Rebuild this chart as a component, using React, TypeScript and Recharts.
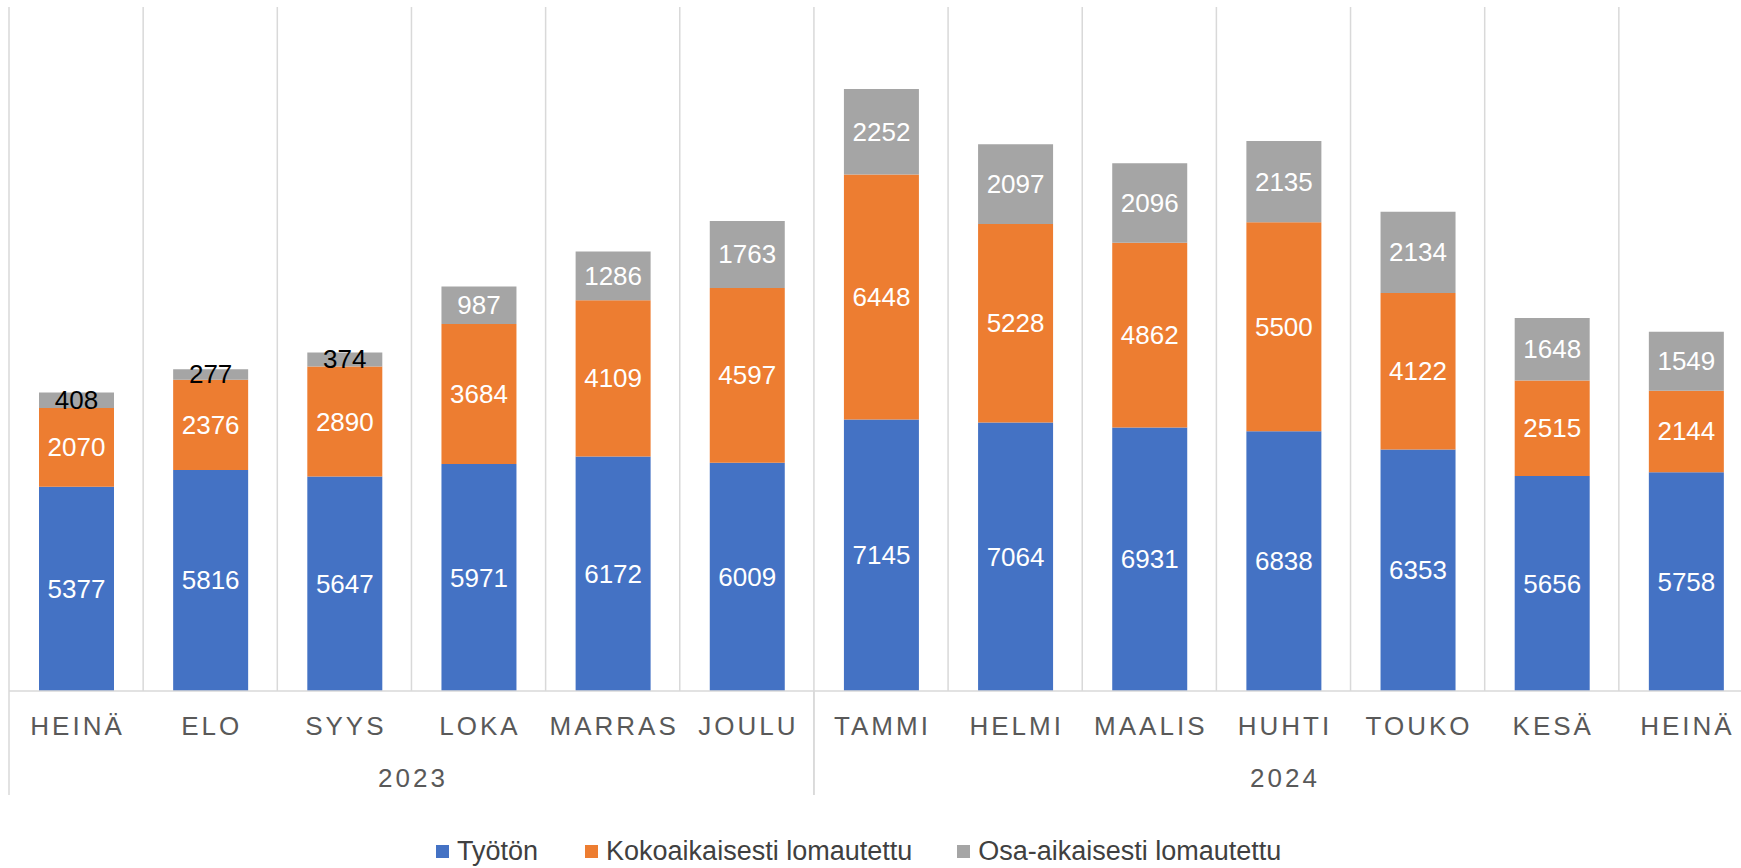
import React from 'react';
import { BarChart, Bar, XAxis, YAxis, CartesianGrid, Legend, LabelList } from 'recharts';

const months = ['HEINÄ', 'ELO', 'SYYS', 'LOKA', 'MARRAS', 'JOULU', 'TAMMI', 'HELMI', 'MAALIS', 'HUHTI', 'TOUKO', 'KESÄ', 'HEINÄ'];
const years = ['2023', '2023', '2023', '2023', '2023', '2023', '2024', '2024', '2024', '2024', '2024', '2024', '2024'];

const tyoton = [5377, 5816, 5647, 5971, 6172, 6009, 7145, 7064, 6931, 6838, 6353, 5656, 5758];
const kokoaikaisesti = [2070, 2376, 2890, 3684, 4109, 4597, 6448, 5228, 4862, 5500, 4122, 2515, 2144];
const osaaikaisesti = [408, 277, 374, 987, 1286, 1763, 2252, 2097, 2096, 2135, 2134, 1648, 1549];

const seriesNames = ['Työtön', 'Kokoaikaisesti lomautettu', 'Osa-aikaisesti lomautettu'];

const data = months.map((month, i) => ({
  month,
  year: years[i],
  tyoton: tyoton[i],
  koko: kokoaikaisesti[i],
  osa: osaaikaisesti[i],
}));

const COLORS = { tyoton: '#4472C4', koko: '#ED7D31', osa: '#A5A5A5' };
const FONT = '"Liberation Sans", Arial, sans-serif';
const GRID = '#d9d9d9';
const AXIS_TEXT = '#595959';

// month label + the multi-level year row underneath
const MonthTick = (props: any) => {
  const { x, y, payload, index, width } = props;
  const n = data.length;
  const band = (width || 1744) / n;
  const i = typeof index === 'number' ? index : payload.index;
  const year = years[i];
  const first = i === 0 || years[i - 1] !== year;
  const last = i === n - 1 || years[i + 1] !== year;
  let count = 0;
  if (first) {
    for (let j = i; j < n && years[j] === year; j++) count++;
  }
  const left = x - band / 2;
  return (
    <g>
      {first && (
        <>
          <line x1={left} x2={left} y1={y} y2={y + 104} stroke={GRID} strokeWidth={1.5} />
          <text x={left + (count * band) / 2 + 1.5} y={y + 96} textAnchor="middle" fill={AXIS_TEXT} fontSize={26} letterSpacing={3} fontFamily={FONT}>
            {year}
          </text>
        </>
      )}
      {last && <line x1={x + band / 2} x2={x + band / 2} y1={y} y2={y + 104} stroke={GRID} strokeWidth={1.5} />}
      <text x={x + 1.5} y={y + 44} textAnchor="middle" fill={AXIS_TEXT} fontSize={26} letterSpacing={3} fontFamily={FONT}>
        {payload.value}
      </text>
    </g>
  );
};

const renderValue = (props: any) => {
  const { x, y, width, height, value } = props;
  const small = Number(value) < 500;
  return (
    <text
      x={Number(x) + Number(width) / 2}
      y={Number(y) + Number(height) / 2}
      textAnchor="middle"
      dominantBaseline="central"
      fill={small ? '#000000' : '#ffffff'}
      fontSize={26}
      fontFamily={FONT}
    >
      {value}
    </text>
  );
};

const renderLegend = (props: any) => {
  const items = [...(props.payload || [])].sort(
    (a: any, b: any) => seriesNames.indexOf(a.value) - seriesNames.indexOf(b.value)
  );
  return (
    <div
      style={{
        height: 50,
        display: 'flex',
        alignItems: 'center',
        paddingTop: 18,
        paddingBottom: 2,
        paddingLeft: 427,
        boxSizing: 'border-box',
        fontFamily: FONT,
      }}
    >
      {items.map((entry: any, i: number) => (
        <div key={entry.value} style={{ display: 'flex', alignItems: 'center', marginRight: i === 0 ? 47 : 45 }}>
          <span style={{ display: 'inline-block', width: 13, height: 13, background: entry.color, marginRight: 8 }} />
          <span style={{ fontSize: 27, lineHeight: '28px', color: '#404040' }}>{entry.value}</span>
        </div>
      ))}
    </div>
  );
};

export default function App() {
  return (
    <div style={{ position: 'absolute', left: 0, top: 0, width: 1741, height: 868, overflow: 'hidden', background: '#fff' }}>
      <BarChart
        width={1760}
        height={868}
        data={data}
        margin={{ top: 7, right: 7, bottom: 0, left: 9 }}
        style={{ fontFamily: FONT }}
      >
        <CartesianGrid
          horizontal={false}
          stroke={GRID}
          strokeWidth={1.5}
          verticalCoordinatesGenerator={({ offset }: any) => {
            const left = offset ? offset.left : 9;
            const w = offset ? offset.width : 1744;
            return data.map((_, i) => left + (i * w) / data.length).concat(left + w);
          }}
        />
        <XAxis
          dataKey="month"
          interval={0}
          height={127}
          tickLine={false}
          tickSize={0}
          tickMargin={0}
          axisLine={{ stroke: GRID, strokeWidth: 1.5 }}
          tick={(p: any) => <MonthTick {...p} />}
        />
        <YAxis hide domain={[0, 18000]} />
        <Legend verticalAlign="bottom" content={renderLegend} />
        <Bar dataKey="tyoton" name={seriesNames[0]} stackId="a" fill={COLORS.tyoton} barSize={75} isAnimationActive={false}>
          <LabelList dataKey="tyoton" content={renderValue} />
        </Bar>
        <Bar dataKey="koko" name={seriesNames[1]} stackId="a" fill={COLORS.koko} barSize={75} isAnimationActive={false}>
          <LabelList dataKey="koko" content={renderValue} />
        </Bar>
        <Bar dataKey="osa" name={seriesNames[2]} stackId="a" fill={COLORS.osa} barSize={75} isAnimationActive={false}>
          <LabelList dataKey="osa" content={renderValue} />
        </Bar>
      </BarChart>
    </div>
  );
}
